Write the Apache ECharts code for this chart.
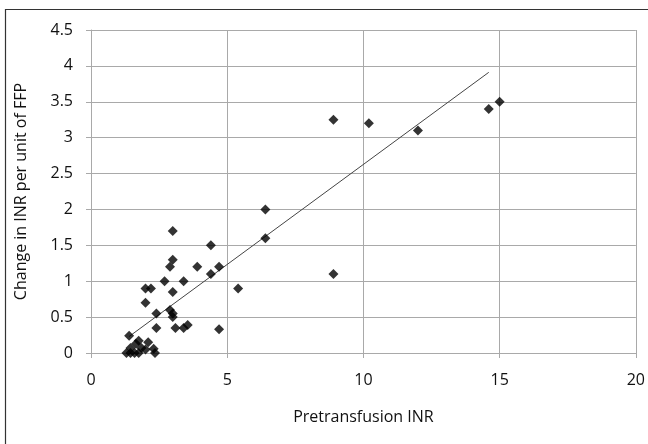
<!DOCTYPE html>
<html>
<head>
<meta charset="utf-8">
<script src="https://cdn.jsdelivr.net/npm/echarts@6/dist/echarts.min.js"></script>
<style>
  html, body { margin: 0; padding: 0; background: #fff; }
  #chart { width: 648px; height: 444px; }
</style>
</head>
<body>
<div id="chart"></div>
<script>
// pretransfusion INR (x) vs change in INR per unit FFP (y)
const inrX = [1.3, 1.45, 1.6, 1.75, 1.45, 1.4, 1.65, 1.75, 1.85, 2.0, 2.1, 2.3, 2.35,
  2.4, 2.4, 2.0, 2.0, 2.2, 2.7, 2.9, 3.0, 3.0, 3.0, 2.9, 3.0, 3.0, 3.1, 3.4, 3.55,
  3.4, 3.9, 4.4, 4.4, 4.7, 4.7, 5.4, 6.4, 6.4, 8.9, 8.9, 10.2, 12.0, 14.6, 15.0]
const changeY = [0, 0, 0, 0, 0.07, 0.24, 0.13, 0.17, 0.07, 0.05, 0.15, 0.06, 0.0,
  0.35, 0.55, 0.7, 0.9, 0.9, 1.0, 1.2, 1.3, 1.7, 0.85, 0.6, 0.55, 0.5, 0.35, 0.35, 0.39,
  1.0, 1.2, 1.5, 1.1, 1.2, 0.33, 0.9, 2.0, 1.6, 3.25, 1.1, 3.2, 3.1, 3.4, 3.5]
// fitted trend line end points
const trendX = [1.4, 14.6]
const trendY = [0.23, 3.91]

const points = inrX.map((x, i) => [x, changeY[i]])
const trend = trendX.map((x, i) => [x, trendY[i]])

const font = 'Open Sans'
const textColor = '#111'
const gridColor = '#a9a9a9'

const chart = echarts.init(document.getElementById('chart'))
chart.setOption({
  animation: false,
  graphic: [{
    type: 'rect',
    shape: { x: 5.5, y: 9.5, width: 700, height: 500 },
    style: { fill: 'none', stroke: '#333', lineWidth: 1.2 },
    silent: true
  }],
  grid: { left: 91, right: 9, top: 30, bottom: 91 },
  xAxis: {
    type: 'value',
    min: 0,
    max: 20,
    interval: 5,
    name: 'Pretransfusion INR',
    nameLocation: 'middle',
    nameGap: 56,
    nameTextStyle: { fontFamily: font, fontSize: 16, color: textColor },
    axisLine: { show: true, lineStyle: { color: gridColor, width: 1 } },
    axisTick: { show: true, length: 5, lineStyle: { color: gridColor } },
    axisLabel: { fontFamily: font, fontSize: 16, color: textColor, margin: 19 },
    splitLine: { show: true, lineStyle: { color: gridColor, width: 1 } }
  },
  yAxis: {
    type: 'value',
    min: 0,
    max: 4.5,
    interval: 0.5,
    name: 'Change in INR per unit of FFP',
    nameLocation: 'middle',
    nameGap: 62,
    nameTextStyle: { fontFamily: font, fontSize: 16, color: textColor },
    axisLine: { show: true, lineStyle: { color: gridColor, width: 1 } },
    axisTick: { show: true, length: 5, lineStyle: { color: gridColor } },
    axisLabel: { fontFamily: font, fontSize: 16, color: textColor, margin: 18 },
    splitLine: { show: true, lineStyle: { color: gridColor, width: 1 } }
  },
  series: [
    {
      type: 'line',
      data: trend,
      showSymbol: false,
      symbol: 'none',
      lineStyle: { color: '#444', width: 1 },
      z: 1
    },
    {
      type: 'scatter',
      data: points,
      symbol: 'diamond',
      symbolSize: 10,
      itemStyle: { color: '#000' },
      z: 2
    }
  ]
})
</script>
</body>
</html>
